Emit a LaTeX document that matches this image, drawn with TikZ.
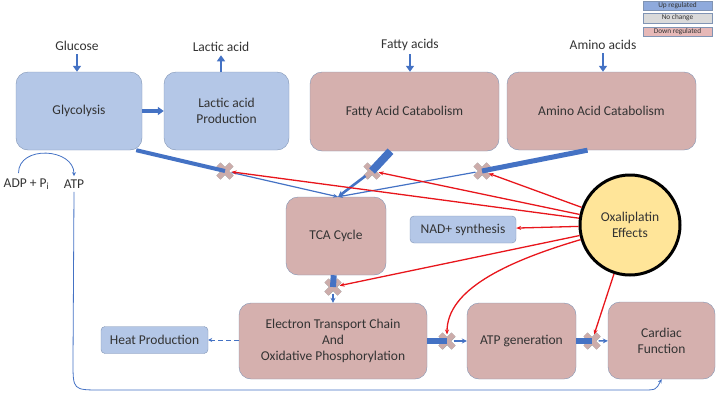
\documentclass[tikz,border=0pt]{standalone}
\usepackage{fontspec}
\setmainfont{Carlito}
\usetikzlibrary{arrows.meta,shapes.misc}

\definecolor{upblue}{RGB}{180,199,231}
\definecolor{downpink}{RGB}{213,176,174}
\definecolor{boxline}{RGB}{128,148,180}
\definecolor{flowblue}{RGB}{68,114,196}
\definecolor{inhred}{RGB}{232,22,28}
\definecolor{oxfill}{RGB}{255,229,153}
\definecolor{xpink}{RGB}{204,172,170}
\definecolor{legup}{RGB}{143,170,220}
\definecolor{leggray}{RGB}{218,218,218}
\definecolor{legdown}{RGB}{230,184,183}

\tikzset{
  upbox/.style={rounded corners=12pt,draw=boxline,fill=upblue,align=center},
  downbox/.style={rounded corners=12pt,draw=boxline,fill=downpink,align=center},
  smallbox/.style={rounded corners=4pt,draw=boxline,fill=upblue,minimum height=27pt},
  blockx/.style={cross out,draw=gray!70,double=xpink,double distance=5pt,line width=0.5pt,minimum size=12.5pt,inner sep=0pt},
  legbox/.style={draw=boxline,minimum width=69pt,minimum height=9.5pt,inner sep=0pt,font=\fontsize{7.3}{8}\selectfont},
  feed/.style={-{Triangle[length=6pt,width=8pt]},line width=2.6pt},
}

\begin{document}
\begin{tikzpicture}[x=1pt,y=-1pt,font=\fontsize{13.5}{16}\selectfont,text=black!80]
\useasboundingbox (0,0) rectangle (720,402);

% legend
\node[legbox,fill=legup] (lup) at (677.5,5.5) {Up regulated};
\node[legbox,fill=leggray] (lno) at (677.5,18) {No change};
\node[legbox,fill=legdown] (ldown) at (677.5,31.5) {Down regulated};

% pathway boxes
\node[upbox,minimum width=126pt,minimum height=78pt] (gly) at (79,111) {Glycolysis};
\node[upbox,minimum width=125pt,minimum height=78pt] (lac) at (226.5,111) {Lactic acid\\Production};
\node[downbox,minimum width=189pt,minimum height=79pt] (fat) at (404.5,111.5) {Fatty Acid Catabolism};
\node[downbox,minimum width=189pt,minimum height=78pt] (ami) at (601.5,111) {Amino Acid Catabolism};
\node[downbox,minimum width=100pt,minimum height=78pt] (tca) at (336,236) {TCA Cycle};
\node[smallbox,minimum width=106pt] (nad) at (463,229.5) {NAD+ synthesis};
\node[smallbox,minimum width=107pt] (heat) at (154.5,340) {Heat Production};
\node[downbox,minimum width=188pt,minimum height=76pt] (etc) at (333,341) {Electron Transport Chain\\And\\Oxidative Phosphorylation};
\node[downbox,minimum width=109pt,minimum height=76pt] (atpgen) at (521.5,341) {ATP generation};
\node[downbox,minimum width=107pt,minimum height=77pt] (card) at (661.5,340.5) {Cardiac\\Function};
\node[circle,draw=black,line width=3pt,fill=oxfill,minimum size=100pt,align=center] (ox) at (630,225) {Oxaliplatin\\Effects};

% substrates
\node (glc) at (77,46) {Glucose};
\node (lacout) at (221,47) {Lactic acid};
\node (fa) at (410,45) {Fatty acids};
\node (aa) at (603,45) {Amino acids};
\node (adp) at (26.5,184) {ADP + P$_\mathrm{i}$};
\node (atp) at (74,184) {ATP};

% blocks
\node[blockx] (x1) at (225,171) {};
\node[blockx] (x2) at (372,171) {};
\node[blockx] (x3) at (482,171) {};
\node[blockx] (x4) at (333,287) {};
\node[blockx] (x5) at (447,341) {};
\node[blockx] (x6) at (592,341) {};

\begin{scope}[every edge/.style={draw=flowblue}]
  \path[feed] (glc.south) edge (gly.north -| glc);
  \path[feed] (lac.north -| lacout) edge (lacout.south);
  \path[feed] (fa.south) edge (fat.north -| fa);
  \path[feed] (aa.south) edge (ami.north -| aa);
  \path[feed,line width=3.4pt] (gly) edge (lac);
  \path[line width=4pt] ([xshift=-6pt]gly.south east) edge (x1.center);
  \path[line width=8pt] ([xshift=-14pt]fat.south) edge (x2.center);
  \path[line width=5pt] ([xshift=-14pt]ami.south) edge (x3.center);
  \path[line width=6pt] (tca) edge (x4.center);
  \path[line width=6pt] (etc) edge (x5.center);
  \path[line width=6pt] (atpgen) edge (x6.center);
  \path[-{Stealth[length=5pt,width=4pt]},line width=1.2pt] (x1) edge ([xshift=2pt]tca.north);
  \path[-{Stealth[length=6pt,width=6pt]},line width=2.6pt] (x2) edge ([xshift=2pt]tca.north);
  \path[-{Stealth[length=5pt,width=4pt]},line width=1.2pt] (x3) edge ([xshift=2pt]tca.north);
  \path[-{Stealth[length=5pt,width=5pt]},line width=1.5pt] (x4) edge (etc);
  \path[-{Stealth[length=5pt,width=5pt]},line width=1.5pt] (x5) edge (atpgen);
  \path[-{Stealth[length=5pt,width=5pt]},line width=1.5pt] (x6) edge (card);
  \path[-{Stealth[length=4pt,width=4pt]},line width=0.8pt,dash pattern=on 5pt off 3pt] (etc.west |- heat) edge (heat);
  \path[-{Stealth[length=4pt,width=4pt]},line width=0.8pt] ([xshift=-8pt,yshift=2pt]adp.north) edge[out=90,in=90,looseness=1.3] (atp.north);
  \draw[-{Stealth[length=4pt,width=4pt]},flowblue,line width=0.8pt] (atp.south) -- (73,362) .. controls (73,390) .. (101,390) -- (642,390) .. controls (656,390) .. (card.south);
\end{scope}

% oxaliplatin effects
\begin{scope}[every edge/.style={draw=inhred,line width=1.3pt,-{Stealth[length=5pt,width=4pt]}}]
  \path (ox) edge (x1);
  \path (ox) edge (x2);
  \path (ox) edge (x3);
  \path (ox) edge (nad);
  \path (ox) edge (x4);
  \path (ox) edge (x6);
  \draw[inhred,line width=1.3pt,-{Stealth[length=5pt,width=4pt]}] (ox) .. controls (505,262) and (447,290) .. (x5);
\end{scope}
\end{tikzpicture}
\end{document}
